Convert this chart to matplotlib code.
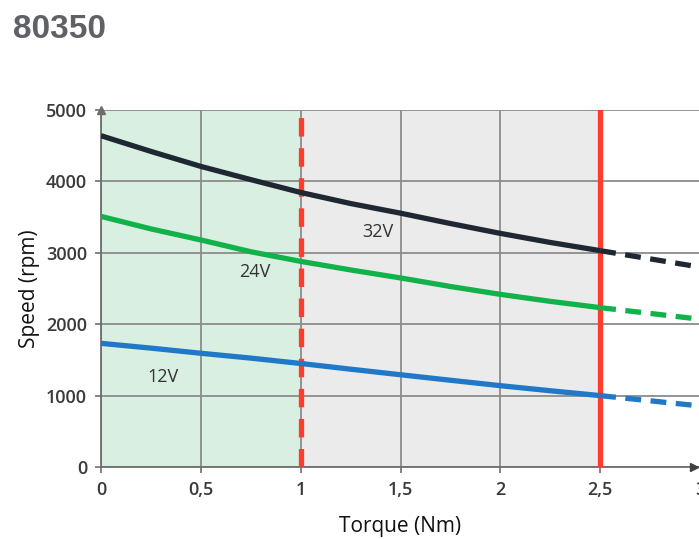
import numpy as np
import matplotlib.pyplot as plt

# torque (Nm) and speed (rpm)
torque = [0, 0.25, 0.5, 0.75, 1.0, 1.25, 1.5, 1.75, 2.0, 2.25, 2.5]
speed_32v = [4640, 4420, 4210, 4025, 3845, 3690, 3555, 3410, 3272, 3145, 3030]
speed_24v = [3510, 3335, 3180, 3015, 2880, 2760, 2648, 2528, 2418, 2320, 2232]
speed_12v = [1732, 1665, 1593, 1525, 1450, 1370, 1292, 1215, 1139, 1068, 1000]

# dashed extension past the 2.5 Nm limit
torque_ext = [2.5, 3.0]
ext_32v = [3030, 2800]
ext_24v = [2232, 2070]
ext_12v = [1000, 855]

xticks = [0, 0.5, 1, 1.5, 2, 2.5, 3]
xticklabels = ["0", "0,5", "1", "1,5", "2", "2,5", "3"]
yticks = [0, 1000, 2000, 3000, 4000, 5000]

plt.rcParams['font.family'] = ['Open Sans', 'DejaVu Sans']

fig = plt.figure(figsize=(6.99, 5.39), dpi=100)
ax = fig.add_axes([101/699, 1 - 467/539, 599/699, 357/539])

ax.axvspan(0, 1, color='#d8efe1', zorder=0)
ax.axvspan(1, 2.5, color='#ebebeb', zorder=0)

ax.set_xlim(0, 3)
ax.set_ylim(0, 5000)
ax.set_xticks(xticks)
ax.set_xticklabels(xticklabels)
ax.set_yticks(yticks)
ax.grid(True, color='#8c8c8c', lw=1.3, zorder=1)
ax.set_axisbelow(True)

for s in ['top', 'right']:
    ax.spines[s].set_visible(False)
for s in ['left', 'bottom']:
    ax.spines[s].set_color('#6e6e6e')
    ax.spines[s].set_linewidth(1.3)
ax.tick_params(colors='#6e6e6e', length=4, width=1.2, labelcolor='#3a3a3a',
               labelsize=13, pad=6)
for lab in ax.get_xticklabels() + ax.get_yticklabels():
    lab.set_fontweight('semibold')

# axis arrows
ax.plot(0, 1, marker='^', color='#6e6e6e', ms=6, transform=ax.transAxes,
        clip_on=False, zorder=5)
ax.plot(0.99, 0, marker='>', color='#404040', ms=6, transform=ax.transAxes,
        clip_on=False, zorder=5)

# limit lines
ax.axvline(1, color='#ff3b2b', lw=3.8, ls=(0, (3.5, 2.2)), zorder=3)
ax.axvline(2.5, color='#ff3b2b', lw=3.8, zorder=3)

ax.plot(torque, speed_32v, color='#1f2733', lw=3.8, zorder=4, solid_capstyle='butt')
ax.plot(torque, speed_24v, color='#12b24a', lw=3.8, zorder=4, solid_capstyle='butt')
ax.plot(torque, speed_12v, color='#1f78c8', lw=3.8, zorder=4, solid_capstyle='butt')
ax.plot(torque_ext, ext_32v, color='#1f2733', lw=3.8, ls=(0, (3, 1.8)), zorder=4)
ax.plot(torque_ext, ext_24v, color='#12b24a', lw=3.8, ls=(0, (3, 1.8)), zorder=4)
ax.plot(torque_ext, ext_12v, color='#1f78c8', lw=3.8, ls=(0, (3, 1.8)), zorder=4)

ax.text(1.385, 3290, "32V", fontsize=13, color='#333333', ha='center', va='center')
ax.text(0.77, 2730, "24V", fontsize=13, color='#333333', ha='center', va='center')
ax.text(0.31, 1260, "12V", fontsize=13, color='#333333', ha='center', va='center')

ax.set_xlabel("Torque (Nm)", fontsize=15, color='#111111', labelpad=12)
ax.set_ylabel("Speed (rpm)", fontsize=15, color='#111111', labelpad=4)

fig.text(13/699, 1 - 38/539, "80350", fontsize=24, fontweight='bold',
         color='#5f6166', family=['Liberation Sans', 'DejaVu Sans'], va='baseline')

fig.savefig("out.png", dpi=100)
